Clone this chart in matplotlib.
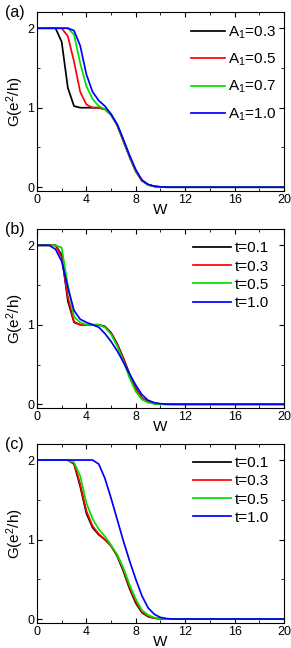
import matplotlib
matplotlib.use("Agg")
import matplotlib.pyplot as plt
from matplotlib.ticker import MultipleLocator

plt.rcParams['font.family'] = ['Liberation Sans', 'DejaVu Sans']
plt.rcParams['mathtext.default'] = 'regular'

W = [0, 0.5, 1, 1.5, 2, 2.5, 3, 3.5, 4, 4.5, 5, 5.5, 6, 6.5, 7, 7.5, 8, 8.5, 9, 9.5, 10, 10.5, 11, 20]

# panel (a): different A1
labels_a = ["A$_1$=0.3", "A$_1$=0.5", "A$_1$=0.7", "A$_1$=1.0"]
G_a03 = [2, 2, 2, 2, 1.83, 1.25, 1.02, 1.0, 1.0, 1.0, 1.0, 0.98, 0.91, 0.78, 0.58, 0.38, 0.2, 0.08, 0.03, 0.01, 0.003, 0, 0, 0]
G_a05 = [2, 2, 2, 2, 2.0, 1.9, 1.58, 1.2, 1.04, 1.0, 1.0, 0.98, 0.91, 0.78, 0.58, 0.38, 0.2, 0.08, 0.03, 0.01, 0.003, 0, 0, 0]
G_a07 = [2, 2, 2, 2, 2.0, 2.0, 1.92, 1.56, 1.27, 1.11, 1.02, 0.98, 0.91, 0.78, 0.59, 0.39, 0.21, 0.085, 0.03, 0.01, 0.003, 0, 0, 0]
G_a10 = [2, 2, 2, 2, 2.0, 2.0, 1.97, 1.78, 1.42, 1.2, 1.09, 1.02, 0.92, 0.79, 0.6, 0.4, 0.22, 0.09, 0.035, 0.012, 0.004, 0, 0, 0]

# panel (b): different t
labels_t = ["t=0.1", "t=0.3", "t=0.5", "t=1.0"]
G_b01 = [2, 2, 2, 2.0, 1.88, 1.3, 1.03, 1.0, 1.0, 1.0, 1.0, 0.98, 0.9, 0.76, 0.58, 0.38, 0.2, 0.08, 0.03, 0.01, 0.002, 0, 0, 0]
G_b03 = [2, 2, 2, 2.0, 1.85, 1.35, 1.04, 1.0, 1.0, 1.0, 1.0, 0.97, 0.89, 0.75, 0.57, 0.37, 0.19, 0.075, 0.028, 0.009, 0.002, 0, 0, 0]
G_b05 = [2, 2, 2, 2.0, 1.97, 1.5, 1.1, 1.03, 1.0, 1.0, 1.0, 0.97, 0.88, 0.73, 0.54, 0.33, 0.16, 0.06, 0.02, 0.005, 0.001, 0, 0, 0]
G_b10 = [2, 2, 2.0, 1.95, 1.8, 1.47, 1.18, 1.07, 1.03, 1.0, 0.97, 0.89, 0.79, 0.67, 0.53, 0.38, 0.24, 0.12, 0.05, 0.02, 0.007, 0.002, 0, 0]

# panel (c): different t
G_c01 = [2, 2, 2, 2, 2, 2.0, 1.95, 1.67, 1.33, 1.15, 1.06, 1.0, 0.92, 0.79, 0.6, 0.38, 0.2, 0.08, 0.03, 0.01, 0.003, 0, 0, 0]
G_c03 = [2, 2, 2, 2, 2, 2.0, 1.96, 1.7, 1.36, 1.17, 1.07, 1.0, 0.92, 0.8, 0.62, 0.4, 0.22, 0.09, 0.035, 0.012, 0.004, 0.001, 0, 0]
G_c05 = [2, 2, 2, 2, 2, 2.0, 1.97, 1.8, 1.46, 1.26, 1.13, 1.04, 0.93, 0.81, 0.64, 0.43, 0.25, 0.11, 0.05, 0.018, 0.006, 0.001, 0, 0]
G_c10 = [2, 2, 2, 2, 2, 2, 2, 2, 2, 2.0, 1.95, 1.77, 1.52, 1.25, 0.98, 0.73, 0.5, 0.29, 0.14, 0.06, 0.02, 0.006, 0, 0]

colors = ['black', '#ff0000', '#00e000', '#0000ff']

# tag, curves, labels, axes bottom, legend spacing, legend right edge, handle length
panels = [
    ("(a)", [G_a03, G_a05, G_a07, G_a10], labels_a, 0.705, 0.72, 1.005, 2.2),
    ("(b)", [G_b01, G_b03, G_b05, G_b10], labels_t, 0.370, 0.28, 0.975, 2.5),
    ("(c)", [G_c01, G_c03, G_c05, G_c10], labels_t, 0.0386, 0.28, 0.975, 2.5),
]

fig = plt.figure(figsize=(2.91, 6.48), dpi=100)

for tag, series, labels, bottom, spacing, lx, hl in panels:
    ax = fig.add_axes([0.127, bottom, 0.849, 0.276])
    for G, c, lab in zip(series, colors, labels):
        ax.plot(W, G, color=c, lw=1.25, label=lab)
    ax.set_xlim(0, 20)
    ax.set_ylim(-0.05, 2.2)
    ax.xaxis.set_major_locator(MultipleLocator(4))
    ax.xaxis.set_minor_locator(MultipleLocator(2))
    ax.yaxis.set_major_locator(MultipleLocator(1))
    ax.yaxis.set_minor_locator(MultipleLocator(0.5))
    ax.tick_params(which='both', direction='in', top=True, right=True, labelsize=9, pad=2)
    ax.tick_params(which='major', length=3.5)
    ax.tick_params(which='minor', length=2)
    ax.set_xlabel("W", fontsize=11, labelpad=-2)
    ax.set_ylabel("G(e$^2$/h)", fontsize=11, labelpad=1)
    ax.legend(loc='upper right', bbox_to_anchor=(lx, 0.985), frameon=False, fontsize=11,
              handlelength=hl, handletextpad=0.2, labelspacing=spacing, borderaxespad=0.2)
    ax.text(-0.13, 1.0, tag, transform=ax.transAxes, fontsize=11.5, va='center', ha='left')

fig.savefig("out.png", dpi=100)
